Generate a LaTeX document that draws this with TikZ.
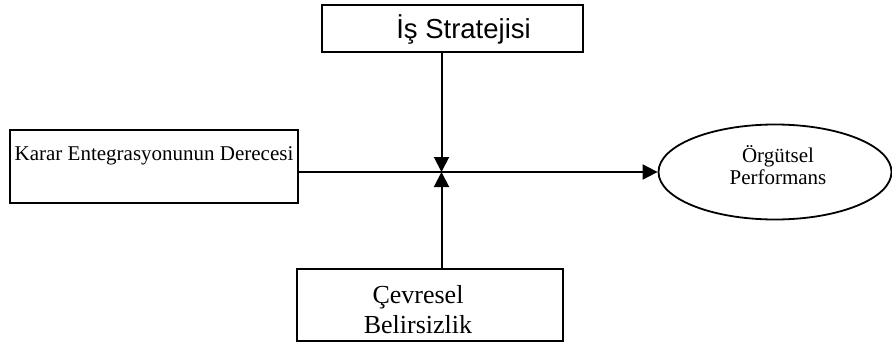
\documentclass[tikz,border=0pt]{standalone}
\usepackage{fontspec}
\setmainfont{Liberation Serif}
\newfontfamily\sansfont{Liberation Sans}
\usetikzlibrary{arrows.meta,shapes.geometric}
\begin{document}
\begin{tikzpicture}[x=1pt,y=-1pt,
  box/.style={draw,line width=2pt,rectangle,inner sep=0pt},
  oval/.style={draw,line width=1.8pt,ellipse,inner sep=0pt},
  link/.style={line width=2pt,-{Triangle[length=15pt,width=15pt]}},
  lbl/.style={inner sep=0pt,anchor=base}]
\useasboundingbox (0,0) rectangle (892,345);

% boxes and the outcome ellipse
\node[box,minimum width=261pt,minimum height=47pt] (strat) at (452.5,28.5) {};
\node[box,minimum width=288pt,minimum height=73pt] (karar) at (154,166.5) {};
\node[box,minimum width=266pt,minimum height=72pt] (cevre) at (430,305) {};
\node[oval,minimum width=233pt,minimum height=95pt] (perf) at (775,172) {};

% labels
\node[lbl,font=\sansfont\fontsize{27.5}{30}\selectfont] (stratlbl) at (463.5,39) {İş Stratejisi};
\node[lbl,font=\fontsize{21}{24}\selectfont] (kararlbl) at (154,160) {Karar Entegrasyonunun Derecesi};
\node[lbl,font=\fontsize{21}{24}\selectfont] (perflbl1) at (778,162) {Örgütsel};
\node[lbl,font=\fontsize{21}{24}\selectfont] (perflbl2) at (778,184.5) {Performans};
\node[lbl,font=\fontsize{26}{28}\selectfont] (cevrelbl1) at (418,303.5) {Çevresel};
\node[lbl,font=\fontsize{26}{28}\selectfont] (cevrelbl2) at (418,333) {Belirsizlik};

% junction where the moderators meet the main path
\coordinate (jn) at (441.5,172);

% connectors
\draw[link] (strat.south -| jn) -- (jn);
\draw[link] (cevre.north -| jn) -- (jn);
\draw[link] (karar.east |- jn) -- (perf.west);
\end{tikzpicture}
\end{document}
